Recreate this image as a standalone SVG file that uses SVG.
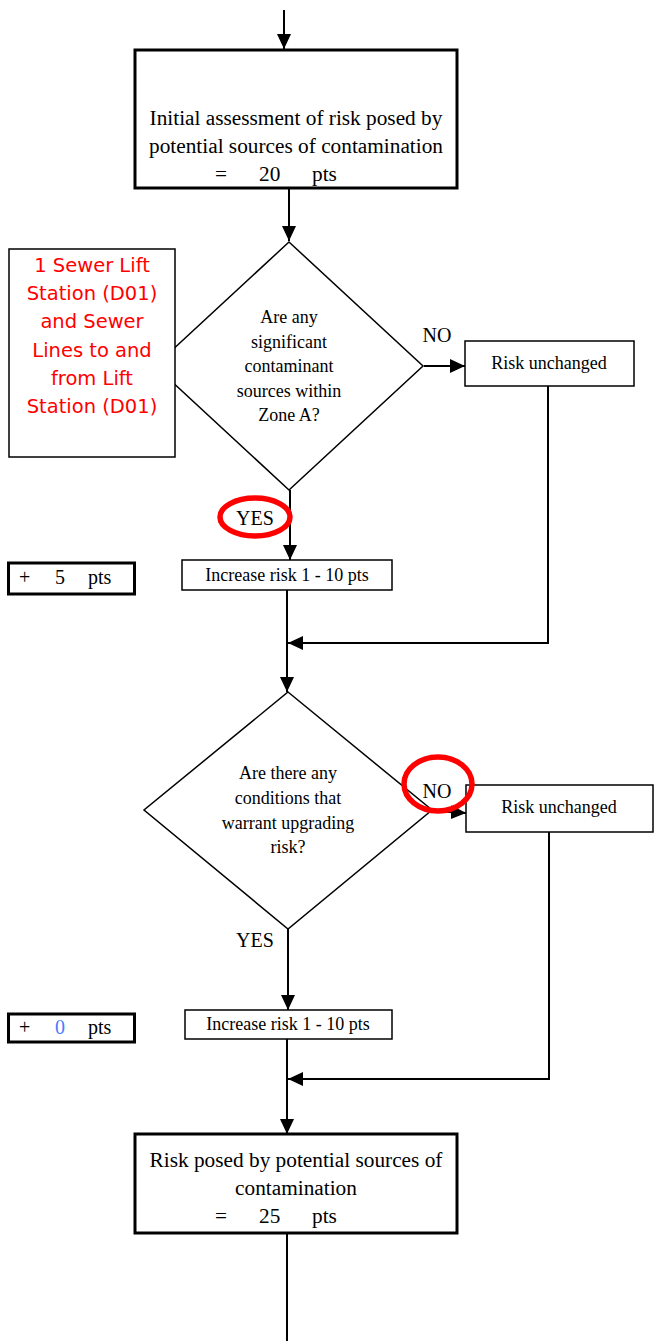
<svg xmlns="http://www.w3.org/2000/svg" width="654" height="1341" viewBox="0 0 654 1341">
  <style>
    .serif { font-family: "Liberation Serif", "Times New Roman", serif; fill: #000; }
    .big { font-size: 21.3px; }
    .mid { font-size: 18px; }
    .lbl { font-size: 20px; }
    .red { font-family: "DejaVu Sans", Verdana, sans-serif; font-size: 19.5px; fill: #ff0000; }
    .thick { fill: #fff; stroke: #000; stroke-width: 3; }
    .thin { fill: #fff; stroke: #000; stroke-width: 1.5; }
    .conn { fill: none; stroke: #000; stroke-width: 2; }
    .ring { fill: none; stroke: #ff0000; stroke-width: 5.5; }
  </style>
  <defs>
    <marker id="arrow" markerUnits="userSpaceOnUse" markerWidth="15" markerHeight="14" refX="15" refY="7" orient="auto">
      <path d="M0,0 L15,7 L0,14 z" fill="#000"/>
    </marker>
  </defs>
  <rect width="654" height="1341" fill="#fff"/>

  <!-- flow connectors -->
  <g id="connectors">
    <line class="conn" x1="284" y1="10" x2="284" y2="49" marker-end="url(#arrow)"/>
    <line class="conn" x1="289" y1="188" x2="289" y2="241" marker-end="url(#arrow)"/>
    <line class="conn" x1="424" y1="366" x2="465" y2="366" marker-end="url(#arrow)"/>
    <line class="conn" x1="290" y1="490" x2="290" y2="560" marker-end="url(#arrow)"/>
    <polyline class="conn" points="548,386 548,643 288,643" marker-end="url(#arrow)"/>
    <line class="conn" x1="287" y1="590" x2="287" y2="692" marker-end="url(#arrow)"/>
    <line class="conn" x1="432" y1="811" x2="466" y2="813" marker-end="url(#arrow)"/>
    <line class="conn" x1="288" y1="929" x2="288" y2="1010" marker-end="url(#arrow)"/>
    <polyline class="conn" points="549,832 549,1079 288,1079" marker-end="url(#arrow)"/>
    <line class="conn" x1="287" y1="1038" x2="287" y2="1134" marker-end="url(#arrow)"/>
    <line class="conn" x1="287" y1="1233" x2="287" y2="1341"/>
  </g>

  <g id="initial-assessment">
    <rect class="thick" x="135" y="50" width="322" height="138"/>
    <text class="serif big" x="296" y="125" text-anchor="middle">Initial assessment of risk posed by</text>
    <text class="serif big" x="296" y="153" text-anchor="middle">potential sources of contamination</text>
    <text class="serif big" x="215" y="181">=</text>
    <text class="serif big" x="259" y="181">20</text>
    <text class="serif big" x="312" y="181">pts</text>
  </g>

  <g id="decision-zone-a">
    <polygon class="thin" points="289,242 423,366 289,490 155,366"/>
    <text class="serif mid" x="289" y="323" text-anchor="middle">Are any</text>
    <text class="serif mid" x="289" y="348" text-anchor="middle">significant</text>
    <text class="serif mid" x="289" y="372" text-anchor="middle">contaminant</text>
    <text class="serif mid" x="289" y="397" text-anchor="middle">sources within</text>
    <text class="serif mid" x="289" y="421" text-anchor="middle">Zone A?</text>
  </g>

  <g id="sources-note">
    <rect class="thin" x="9" y="249" width="166" height="208"/>
    <text class="red" x="92" y="272" text-anchor="middle">1 Sewer Lift</text>
    <text class="red" x="92" y="300" text-anchor="middle">Station (D01)</text>
    <text class="red" x="92" y="328" text-anchor="middle">and Sewer</text>
    <text class="red" x="92" y="357" text-anchor="middle">Lines to and</text>
    <text class="red" x="92" y="385" text-anchor="middle">from Lift</text>
    <text class="red" x="92" y="413" text-anchor="middle">Station (D01)</text>
  </g>

  <g id="label-no-1">
    <text class="serif lbl" x="437" y="342" text-anchor="middle">NO</text>
  </g>

  <g id="unchanged-1">
    <rect class="thin" x="465" y="341" width="169" height="45"/>
    <text class="serif mid" x="549" y="369" text-anchor="middle">Risk unchanged</text>
  </g>

  <g id="label-yes-1">
    <text class="serif lbl" x="255" y="525" text-anchor="middle">YES</text>
    <ellipse class="ring" cx="255" cy="517" rx="35" ry="19"/>
  </g>

  <g id="increase-1">
    <rect class="thin" x="182" y="560" width="210" height="30"/>
    <text class="serif mid" x="287" y="581" text-anchor="middle">Increase risk 1 - 10 pts</text>
  </g>

  <g id="points-1">
    <rect class="thick" x="8.5" y="563" width="126" height="31"/>
    <text class="serif lbl" x="19" y="584">+</text>
    <text class="serif lbl" x="55" y="584">5</text>
    <text class="serif lbl" x="88" y="584">pts</text>
  </g>

  <g id="decision-upgrade">
    <polygon class="thin" points="288,692 432,810 288,929 144,810"/>
    <text class="serif mid" x="288" y="779" text-anchor="middle">Are there any</text>
    <text class="serif mid" x="288" y="804" text-anchor="middle">conditions that</text>
    <text class="serif mid" x="288" y="829" text-anchor="middle">warrant upgrading</text>
    <text class="serif mid" x="288" y="853" text-anchor="middle">risk?</text>
  </g>

  <g id="unchanged-2">
    <rect class="thin" x="466" y="785" width="187" height="47"/>
    <text class="serif mid" x="559" y="813" text-anchor="middle">Risk unchanged</text>
  </g>

  <g id="label-no-2">
    <text class="serif lbl" x="437" y="798" text-anchor="middle">NO</text>
    <ellipse class="ring" cx="438" cy="784" rx="34" ry="27"/>
  </g>

  <g id="label-yes-2">
    <text class="serif lbl" x="255" y="947" text-anchor="middle">YES</text>
  </g>

  <g id="increase-2">
    <rect class="thin" x="185" y="1010" width="207" height="29"/>
    <text class="serif mid" x="288" y="1030" text-anchor="middle">Increase risk 1 - 10 pts</text>
  </g>

  <g id="points-2">
    <rect class="thick" x="8.5" y="1014" width="126" height="28"/>
    <text class="serif lbl" x="19" y="1034">+</text>
    <text class="serif lbl" x="55" y="1034" style="fill:#4a7bff">0</text>
    <text class="serif lbl" x="88" y="1034">pts</text>
  </g>

  <g id="final-risk">
    <rect class="thick" x="135" y="1134" width="322" height="99"/>
    <text class="serif big" x="296" y="1167" text-anchor="middle">Risk posed by potential sources of</text>
    <text class="serif big" x="296" y="1195" text-anchor="middle">contamination</text>
    <text class="serif big" x="215" y="1223">=</text>
    <text class="serif big" x="259" y="1223">25</text>
    <text class="serif big" x="312" y="1223">pts</text>
  </g>
</svg>
